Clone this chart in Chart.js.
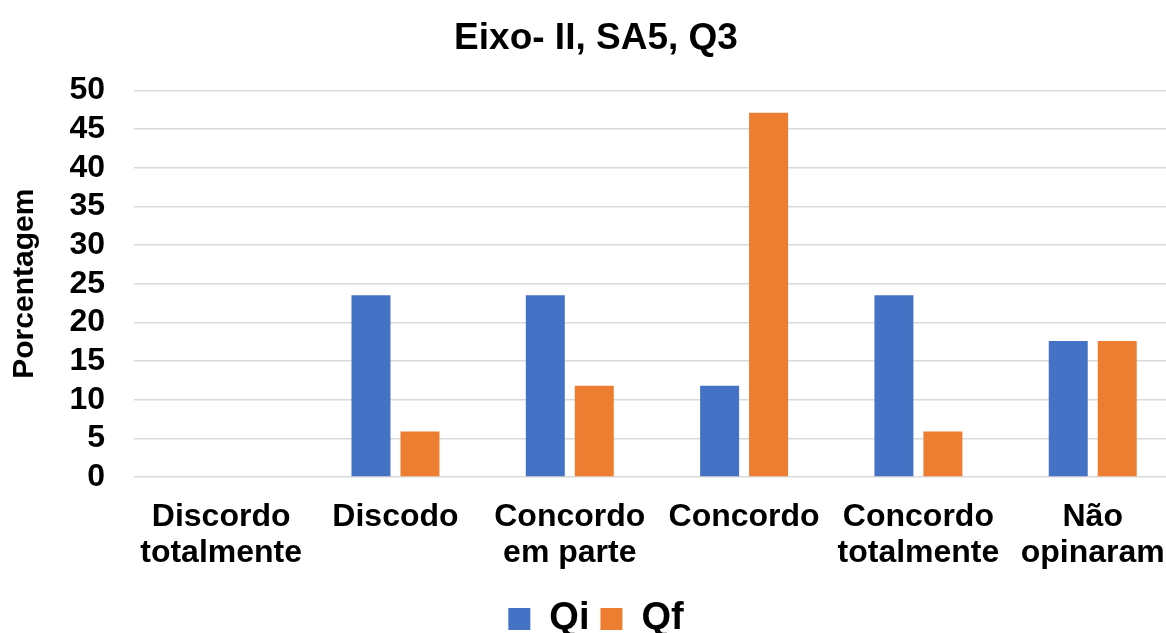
<!DOCTYPE html>
<html>
<head>
<meta charset="utf-8">
<script src="https://cdn.jsdelivr.net/npm/chart.js@4"></script>
<style>
  html, body { margin: 0; padding: 0; background: #fff; overflow: hidden; }
  #wrap { width: 1166px; height: 633px; overflow: hidden; }
  #box { width: 1188px; height: 633px; position: relative; }
</style>
</head>
<body>
<div id="wrap"><div id="box"><canvas id="chart"></canvas></div></div>
<script>
var categories = [
    ["Discordo", "totalmente"],
    "Discodo",
    ["Concordo", "em parte"],
    "Concordo",
    ["Concordo", "totalmente"],
    ["Não", "opinaram"]
];
var qiValues = [0, 23.5, 23.5, 11.8, 23.5, 17.6];
var qfValues = [0, 5.9, 11.8, 47.1, 5.9, 17.6];
var seriesNames = ["Qi", "Qf"];

var font = "'Liberation Sans', Arial, sans-serif";

var ctx = document.getElementById('chart').getContext('2d');

var chartData = {
    labels: categories,
    datasets: [{
        label: seriesNames[0],
        data: qiValues,
        backgroundColor: "#4472C4",
        categoryPercentage: 0.562,
        barPercentage: 0.796
    }, {
        label: seriesNames[1],
        data: qfValues,
        backgroundColor: "#ED7D31",
        categoryPercentage: 0.562,
        barPercentage: 0.796
    }]
};

var options = {
    responsive: true,
    maintainAspectRatio: false,
    animation: false,
    layout: { padding: { left: 7, right: 3, top: 0, bottom: -15 } },
    plugins: {
        title: {
            display: true,
            text: "Eixo- II, SA5, Q3",
            color: "#000",
            font: { family: font, size: 37, weight: "bold", lineHeight: 1.2 },
            padding: { top: 17, bottom: 29 }
        },
        legend: {
            position: "bottom",
            labels: {
                color: "#000",
                font: { family: font, size: 38, weight: "bold" },
                boxWidth: 22,
                boxHeight: 22,
                padding: 11
            }
        },
        tooltip: { enabled: false }
    },
    scales: {
        x: {
            grid: { display: false, drawTicks: false },
            border: { display: false },
            ticks: {
                color: "#000",
                font: { family: font, size: 32, weight: "bold", lineHeight: 1.1 },
                padding: 23,
                maxRotation: 0,
                autoSkip: false
            },
            afterFit: function (axis) { axis.height = 112; }
        },
        y: {
            min: 0,
            max: 50,
            ticks: {
                stepSize: 5,
                autoSkip: false,
                color: "#000",
                font: { family: font, size: 32, weight: "bold" },
                padding: 29
            },
            grid: { color: "#d9d9d9", lineWidth: 1.5, drawTicks: false },
            border: { display: false },
            title: {
                display: true,
                text: "Porcentagem",
                color: "#000",
                font: { family: font, size: 30, weight: "bold", lineHeight: 1.2 },
                padding: { top: 0, bottom: 0 }
            },
            afterFit: function (axis) { axis.width = 127; }
        }
    }
};

var myChart = new Chart(ctx, {
    type: 'bar',
    data: chartData,
    options: options
});
</script>
</body>
</html>
